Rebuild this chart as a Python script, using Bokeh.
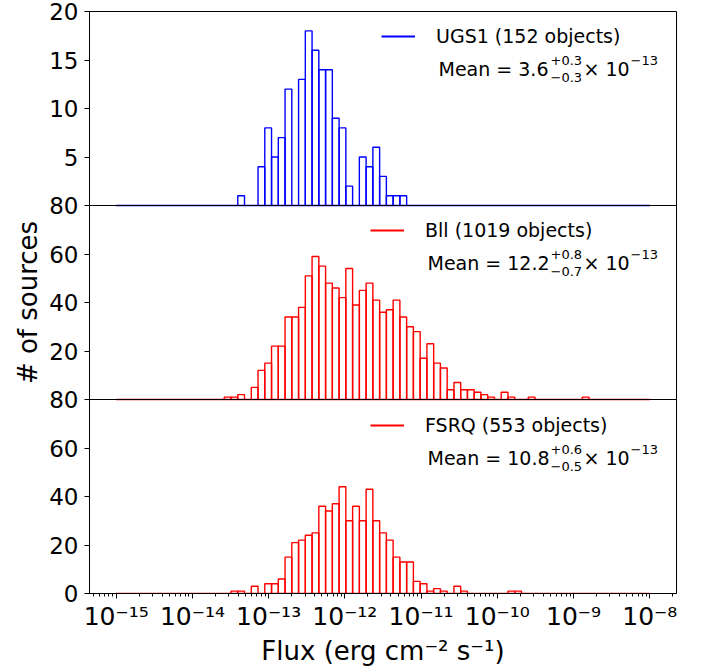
import numpy as np
from bokeh.plotting import figure
from bokeh.models import (Range1d, FixedTicker, Legend, LegendItem, Label, Span,
                          CustomJSTickFormatter)
from bokeh.embed import file_html
from bokeh.resources import INLINE

# ---------------- data ----------------
# 79 logarithmic bins between 1e-15 and 1e-8 erg cm^-2 s^-1
bin_edges = np.logspace(-15, -8, 80)

ugs_counts = [0, 0, 0, 0, 0, 0, 0, 0, 0, 0,
              0, 0, 0, 0, 0, 0, 0, 0, 1, 0,
              0, 4, 8, 5, 7, 12, 0, 13, 18, 16,
              14, 14, 9, 8, 2, 0, 5, 4, 6, 3,
              1, 1, 1, 0, 0, 0, 0, 0, 0, 0,
              0, 0, 0, 0, 0, 0, 0, 0, 0, 0,
              0, 0, 0, 0, 0, 0, 0, 0, 0, 0,
              0, 0, 0, 0, 0, 0, 0, 0, 0]

bll_counts = [0, 0, 0, 0, 0, 0, 0, 0, 0, 0,
              0, 0, 0, 0, 0, 0, 1, 1, 2, 0,
              5, 12, 15, 22, 22, 34, 34, 38, 51, 59,
              55, 48, 46, 42, 54, 39, 45, 48, 41, 36,
              37, 41, 34, 30, 28, 17, 23, 15, 13, 4,
              7, 4, 4, 3, 2, 1, 0, 3, 1, 0,
              0, 1, 0, 0, 0, 0, 0, 0, 0, 1,
              0, 0, 0, 0, 0, 0, 0, 0, 0]

fsrq_counts = [0, 0, 0, 0, 0, 0, 0, 0, 0, 0,
               0, 0, 0, 0, 0, 0, 0, 1, 1, 0,
               3, 0, 4, 4, 6, 15, 21, 22, 24, 25,
               36, 34, 37, 44, 30, 36, 30, 43, 30, 25,
               22, 15, 13, 13, 5, 4, 1, 2, 1, 0,
               3, 1, 0, 0, 0, 0, 0, 0, 1, 1,
               0, 0, 0, 0, 0, 0, 0, 0, 0, 0,
               0, 0, 0, 0, 0, 0, 0, 0, 0]

series_names = ["UGS1 (152 objects)", "Bll (1019 objects)", "FSRQ (553 objects)"]
series_colors = ["blue", "red", "red"]
mean_values = ["3.6", "12.2", "10.8"]
mean_plus = ["+0.3", "+0.8", "+0.6"]
mean_minus = ["\u22120.3", "\u22120.7", "\u22120.5"]
mean_times = "\u00d7 10"
mean_exp = "\u221213"

ugs_ticks = [5, 10, 15, 20]
bll_ticks = [20, 40, 60, 80]
fsrq_ticks = [0, 20, 40, 60, 80]
x_exponents = list(range(-15, -7))

FONT = "DejaVu Sans"

# ---------------- figure ----------------
p = figure(width=713, height=668, x_axis_type="log",
           x_range=Range1d(10 ** -15.35, 10 ** -7.65),
           y_range=Range1d(0, 240),
           output_backend="svg", toolbar_location=None,
           min_border_left=89, min_border_right=37,
           min_border_top=11, min_border_bottom=75)

# each panel gets its own scale, laid out in thirds of the frame
p.extra_y_ranges = {"ugs": Range1d(-40, 20), "bll": Range1d(-80, 160)}

p.xgrid.visible = False
p.ygrid.visible = False
p.outline_line_color = "black"
p.outline_line_width = 1
p.background_fill_color = "white"
p.border_fill_color = "white"

lefts = bin_edges[:-1]
rights = bin_edges[1:]
range_names = ["ugs", "bll", "default"]
all_counts = [ugs_counts, bll_counts, fsrq_counts]

for counts, color, rname in zip(all_counts, series_colors, range_names):
    p.quad(left=lefts, right=rights, bottom=0, top=counts,
           fill_color=None, line_color=color, line_width=1.4,
           y_range_name=rname)

# panel separators
for loc in (80, 160):
    p.add_layout(Span(location=loc, dimension="width", line_color="black",
                      line_width=1))

# ---------------- axes ----------------
def to_main(v, r):
    return (v - r.start) / (r.end - r.start) * 240

overrides = {}
for t in fsrq_ticks:
    overrides[int(round(to_main(t, p.y_range)))] = str(t)
for t in bll_ticks:
    overrides[int(round(to_main(t, p.extra_y_ranges["bll"])))] = str(t)
for t in ugs_ticks:
    overrides[int(round(to_main(t, p.extra_y_ranges["ugs"])))] = str(t)

yaxis = p.yaxis[0]
yaxis.ticker = FixedTicker(ticks=sorted(overrides.keys()))
yaxis.major_label_overrides = overrides
yaxis.axis_label = "# of sources"
yaxis.axis_label_text_font = FONT
yaxis.axis_label_text_font_size = "26px"
yaxis.axis_label_text_font_style = "normal"
yaxis.axis_label_text_color = "black"
yaxis.axis_label_standoff = 3
yaxis.major_label_text_font = FONT
yaxis.major_label_text_font_size = "23px"
yaxis.major_label_text_color = "black"
yaxis.major_tick_out = 5
yaxis.major_tick_in = 0
yaxis.minor_tick_line_color = None
yaxis.major_label_standoff = 6
yaxis.axis_line_color = "black"
yaxis.major_tick_line_color = "black"

xaxis = p.xaxis[0]
major_x = [10.0 ** e for e in x_exponents]
minor_x = [m * 10.0 ** e for e in range(-16, -7) for m in range(2, 10)]
xaxis.ticker = FixedTicker(ticks=major_x, minor_ticks=minor_x)
xaxis.formatter = CustomJSTickFormatter(code="""
const sup = {'-': '\u207b', '0': '\u2070', '1': '\u00b9', '2': '\u00b2', '3': '\u00b3',
             '4': '\u2074', '5': '\u2075', '6': '\u2076', '7': '\u2077', '8': '\u2078', '9': '\u2079'};
const e = Math.round(Math.log10(tick));
return '10' + String(e).split('').map(c => sup[c]).join('');
""")
xaxis.axis_label = "Flux (erg cm\u207b\u00b2 s\u207b\u00b9)"
xaxis.axis_label_text_font = FONT
xaxis.axis_label_text_font_size = "26px"
xaxis.axis_label_text_font_style = "normal"
xaxis.axis_label_text_color = "black"
xaxis.axis_label_standoff = 2
xaxis.major_label_text_font = FONT
xaxis.major_label_text_font_size = "25px"
xaxis.major_label_text_color = "black"
xaxis.major_tick_out = 5
xaxis.major_tick_in = 0
xaxis.minor_tick_out = 3
xaxis.minor_tick_in = 0
xaxis.major_label_standoff = 3
xaxis.axis_line_color = "black"
xaxis.major_tick_line_color = "black"
xaxis.minor_tick_line_color = "black"

# ---------------- legends & mean annotations ----------------
legend_pos = [(292, 546), (281, 352), (281, 157)]
mean_pos = [(349, 525), (338, 331), (338, 136)]
script_x = 461
times_x = 494
exp_x = 541

for i in range(3):
    proxy = p.line(x=lefts, y=all_counts[i], line_color=series_colors[i],
                   line_width=2, y_range_name=range_names[i], visible=False)
    leg = Legend(items=[LegendItem(label=series_names[i], renderers=[proxy])],
                 location=legend_pos[i], padding=0, margin=0, spacing=0,
                 border_line_color=None, background_fill_alpha=0,
                 inactive_fill_alpha=0, click_policy="none",
                 glyph_width=34, glyph_height=20, label_height=20,
                 label_standoff=21, label_text_font=FONT,
                 label_text_font_size="19px", label_text_color="black")
    p.add_layout(leg)

    mx, my = mean_pos[i]
    p.add_layout(Label(x=mx, y=my, x_units="screen", y_units="screen",
                       text="Mean = " + mean_values[i], text_font=FONT,
                       text_font_size="19px", text_baseline="middle",
                       text_align="left", text_color="black"))
    p.add_layout(Label(x=script_x, y=my + 8, x_units="screen", y_units="screen",
                       text=mean_plus[i], text_font=FONT,
                       text_font_size="13px", text_baseline="middle",
                       text_align="left", text_color="black"))
    p.add_layout(Label(x=script_x, y=my - 9, x_units="screen", y_units="screen",
                       text=mean_minus[i], text_font=FONT,
                       text_font_size="13px", text_baseline="middle",
                       text_align="left", text_color="black"))
    p.add_layout(Label(x=times_x, y=my, x_units="screen", y_units="screen",
                       text=mean_times, text_font=FONT,
                       text_font_size="19px", text_baseline="middle",
                       text_align="left", text_color="black"))
    p.add_layout(Label(x=exp_x, y=my + 8, x_units="screen", y_units="screen",
                       text=mean_exp, text_font=FONT,
                       text_font_size="13px", text_baseline="middle",
                       text_align="left", text_color="black"))

open("out.html", "w").write(file_html(p, INLINE))
